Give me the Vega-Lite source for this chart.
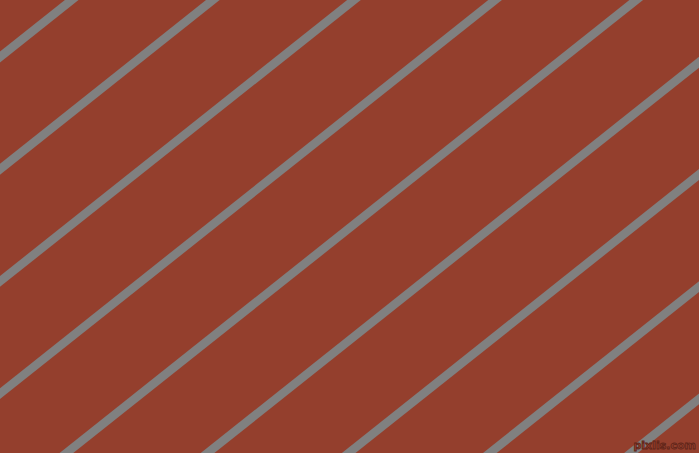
{
  "$schema": "https://vega.github.io/schema/vega-lite/v6.json",
  "description": "Diagonal gray stripes on a rust background.",
  "width": 699,
  "height": 453,
  "autosize": {"type": "fit", "contains": "padding"},
  "padding": 0,
  "background": "#943f2d",
  "config": {"view": {"stroke": null}},
  "layer": [
    {
      "data": {
        "values": [
          {"stripe": 0, "x": -50, "y": 96.75}, {"stripe": 0, "x": 750, "y": -539.25},
          {"stripe": 1, "x": -50, "y": 208.95}, {"stripe": 1, "x": 750, "y": -427.05},
          {"stripe": 2, "x": -50, "y": 321.15}, {"stripe": 2, "x": 750, "y": -314.85},
          {"stripe": 3, "x": -50, "y": 433.35}, {"stripe": 3, "x": 750, "y": -202.65},
          {"stripe": 4, "x": -50, "y": 545.55}, {"stripe": 4, "x": 750, "y": -90.45},
          {"stripe": 5, "x": -50, "y": 657.75}, {"stripe": 5, "x": 750, "y": 21.75},
          {"stripe": 6, "x": -50, "y": 769.95}, {"stripe": 6, "x": 750, "y": 133.95},
          {"stripe": 7, "x": -50, "y": 882.15}, {"stripe": 7, "x": 750, "y": 246.15},
          {"stripe": 8, "x": -50, "y": 994.35}, {"stripe": 8, "x": 750, "y": 358.35}
        ]
      },
      "mark": {"type": "line", "clip": true, "color": "#808080", "strokeWidth": 8.5, "strokeCap": "butt"},
      "encoding": {
        "x": {"field": "x", "type": "quantitative", "scale": {"domain": [0, 699], "nice": false, "zero": false}, "axis": null},
        "y": {"field": "y", "type": "quantitative", "scale": {"domain": [0, 453], "nice": false, "zero": false, "reverse": true}, "axis": null},
        "detail": {"field": "stripe", "type": "nominal"}
      }
    },
    {
      "data": {"values": [{"label": "pixlis.com", "x": 696, "y": 449}]},
      "mark": {"type": "text", "align": "right", "baseline": "alphabetic", "font": "DejaVu Sans", "fontSize": 11, "fontWeight": "bold", "color": "#943f2d", "stroke": "#5e2418", "strokeWidth": 0.8},
      "encoding": {
        "x": {"field": "x", "type": "quantitative"},
        "y": {"field": "y", "type": "quantitative"},
        "text": {"field": "label"}
      }
    }
  ]
}
